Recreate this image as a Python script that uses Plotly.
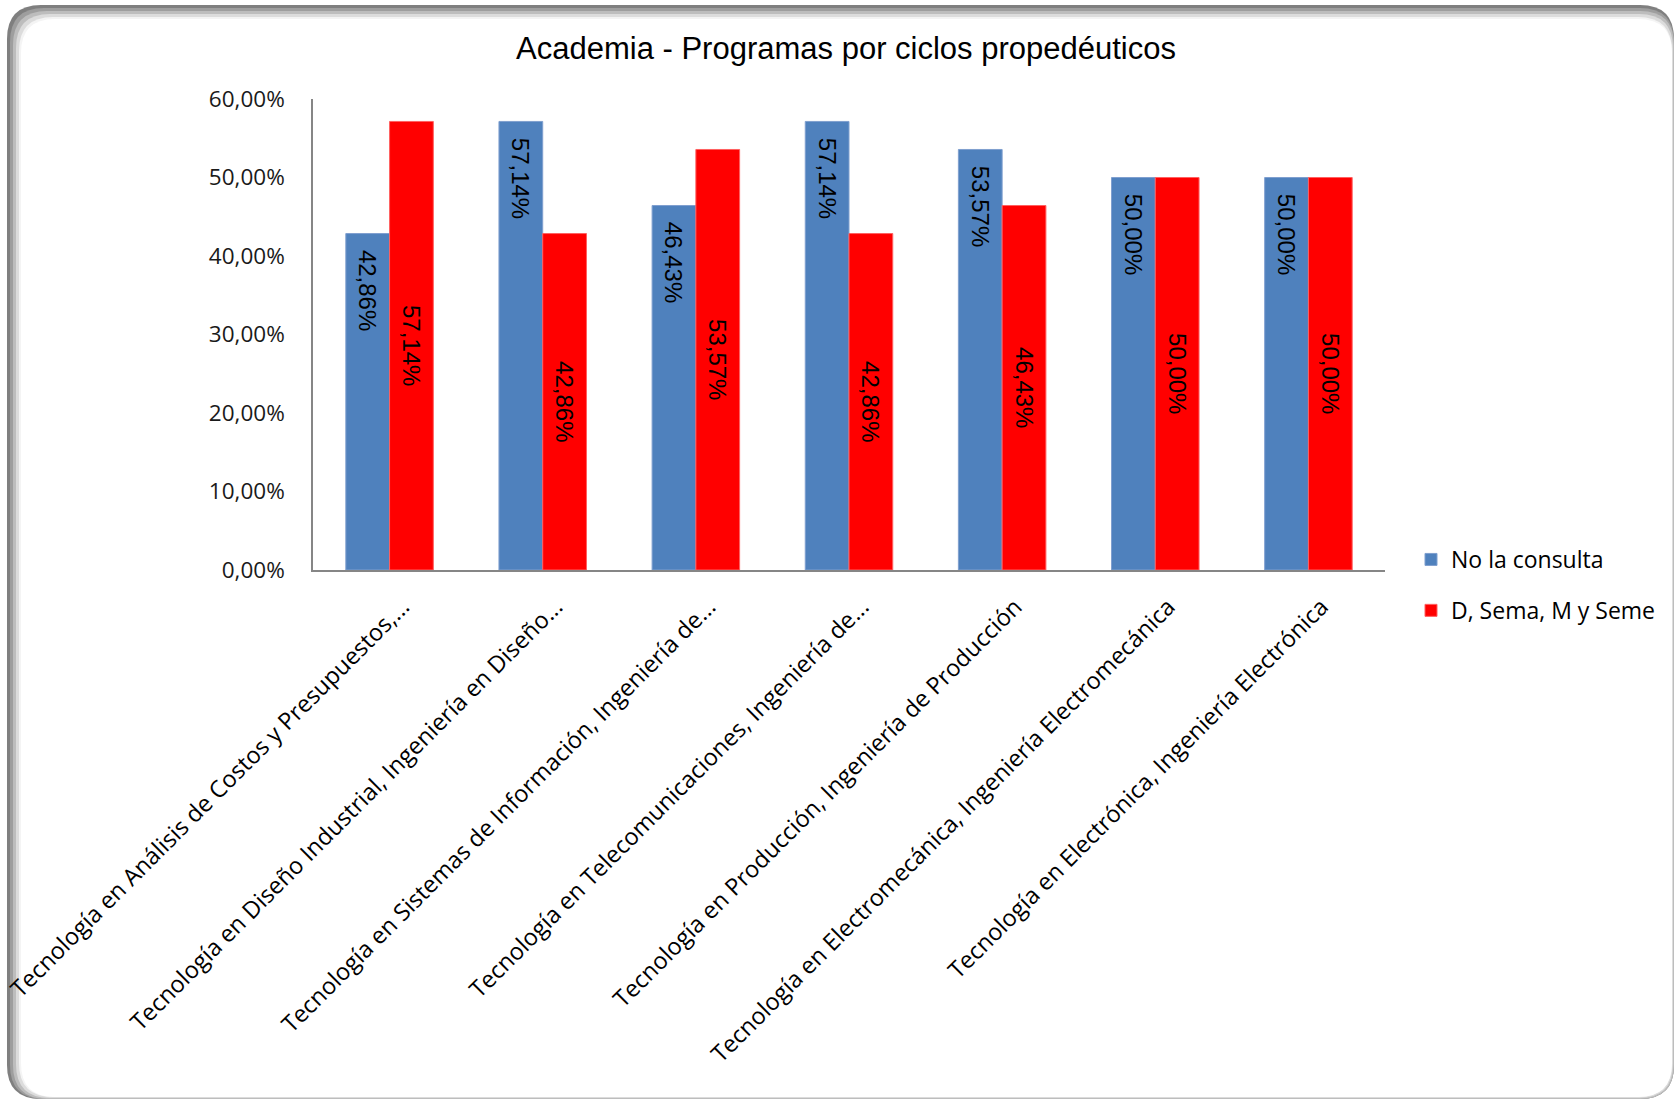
import plotly.graph_objects as go

# categories and values (percent)
programas = [
    "Tecnología en Análisis de Costos y Presupuestos,...",
    "Tecnología en Diseño Industrial, Ingeniería en Diseño...",
    "Tecnología en Sistemas de Información, Ingeniería de...",
    "Tecnología en Telecomunicaciones, Ingeniería de...",
    "Tecnología en Producción, Ingeniería de Producción",
    "Tecnología en Electromecánica, Ingeniería Electromecánica",
    "Tecnología en Electrónica, Ingeniería Electrónica",
]
no_consulta = [42.86, 57.14, 46.43, 57.14, 53.57, 50.00, 50.00]
d_sema_m_seme = [57.14, 42.86, 53.57, 42.86, 46.43, 50.00, 50.00]

y_ticks = [0, 10, 20, 30, 40, 50, 60]
y_tick_labels = ["0,00%", "10,00%", "20,00%", "30,00%", "40,00%", "50,00%", "60,00%"]

W, H = 1679, 1100
L, R, T, B = 313, 1385, 99, 570  # plot area in pixels


def pct(v):
    return f"{v:.2f}%".replace(".", ",")


def px2paper(x, y):
    return (x - L) / (R - L), (B - y) / (B - T)


def rounded_path(x0, y0, x1, y1, r):
    # rounded rectangle in pixel coords -> path in paper coords
    pts = [
        ("M", [(x0 + r, y0)]),
        ("L", [(x1 - r, y0)]),
        ("Q", [(x1, y0), (x1, y0 + r)]),
        ("L", [(x1, y1 - r)]),
        ("Q", [(x1, y1), (x1 - r, y1)]),
        ("L", [(x0 + r, y1)]),
        ("Q", [(x0, y1), (x0, y1 - r)]),
        ("L", [(x0, y0 + r)]),
        ("Q", [(x0, y0), (x0 + r, y0)]),
    ]
    out = []
    for cmd, coords in pts:
        s = " ".join("%.5f,%.5f" % px2paper(cx, cy) for cx, cy in coords)
        out.append(cmd + s)
    return " ".join(out) + " Z"


fig = go.Figure()

fig.add_trace(go.Bar(
    x=programas,
    y=no_consulta,
    name="No la consulta",
    legendgroup="a",
    marker=dict(color="#4F81BD", line=dict(color="#7f9fcf", width=1)),
    text=["\u00a0\u00a0" + pct(v) for v in no_consulta],
    textposition="inside",
    insidetextanchor="end",
    textangle=90,
    insidetextfont=dict(family="Liberation Sans, Arial", size=24, color="black"),
    hoverinfo="x+y",
))

fig.add_trace(go.Bar(
    x=programas,
    y=d_sema_m_seme,
    name="D, Sema, M y Seme",
    legendgroup="b",
    marker=dict(color="#FF0000", line=dict(color="#ff6060", width=1)),
    text=[pct(v) for v in d_sema_m_seme],
    textposition="inside",
    insidetextanchor="middle",
    textangle=90,
    insidetextfont=dict(family="Liberation Sans, Arial", size=24, color="black"),
    hoverinfo="x+y",
))

# chart-area frame with a soft shadow on the top/left
frame_layers = [
    (7, 5, 1674, 1099, "#7f7f7f"),
    (10, 8, 1674, 1099, "#9e9e9e"),
    (13, 11, 1674, 1099, "#bdbdbd"),
    (16, 14, 1673, 1098, "#dcdcdc"),
    (19, 17, 1672, 1097, "#f4f4f4"),
    (21, 19, 1672, 1097, "#ffffff"),
]
shapes = []
for x0, y0, x1, y1, col in frame_layers:
    shapes.append(dict(
        type="path", xref="paper", yref="paper",
        path=rounded_path(x0, y0, x1, y1, 34),
        fillcolor=col, line=dict(width=0), layer="below",
    ))

fig.update_layout(
    width=W,
    height=H,
    margin=dict(l=L, r=W - R, t=T, b=H - B, autoexpand=False),
    paper_bgcolor="white",
    plot_bgcolor="rgba(0,0,0,0)",
    barmode="group",
    bargap=0.4286,
    bargroupgap=0,
    shapes=shapes,
    title=dict(
        text="Academia - Programas por ciclos propedéuticos",
        x=846 / W, xanchor="center",
        y=1 - 48 / H, yanchor="middle",
        font=dict(family="Liberation Sans, Arial", size=31, color="black"),
    ),
    xaxis=dict(
        showline=True, linecolor="#868686", linewidth=1.5,
        showgrid=False, zeroline=False, ticks="",
        tickangle=-45,
        tickfont=dict(family="Open Sans", size=23.5, color="black"),
        ticklabelstandoff=12,
        ticklabelshift=13,
    ),
    yaxis=dict(
        range=[0, 60],
        tickvals=y_ticks, ticktext=y_tick_labels,
        showline=True, linecolor="#868686", linewidth=1.5,
        showgrid=False, zeroline=False, ticks="",
        tickfont=dict(family="Open Sans", size=22.5, color="#1a1a1a"),
        ticklabelstandoff=22,
    ),
    legend=dict(
        x=(1411 - L) / (R - L), xanchor="left",
        y=(B - 538) / (B - T), yanchor="top",
        traceorder="grouped", tracegroupgap=18,
        font=dict(family="Open Sans", size=23, color="black"),
        bgcolor="rgba(0,0,0,0)",
    ),
    showlegend=True,
)

fig.write_html(
    "out.html",
    config={"displayModeBar": False},
    post_script="document.body.style.margin='0';",
)
